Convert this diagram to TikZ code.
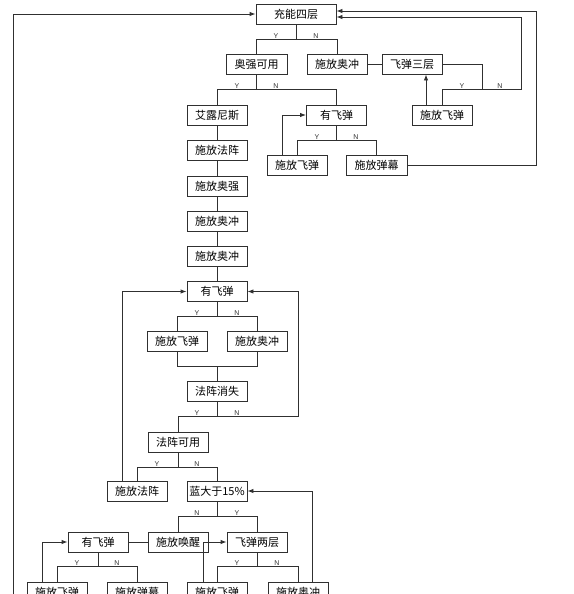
\documentclass[tikz,border=0pt]{standalone}
\usepackage{fontspec}
\setmainfont{Liberation Sans}
\newfontfamily\cjk{Noto Sans CJK SC}
\usetikzlibrary{arrows.meta}
\definecolor{wireclr}{HTML}{303030}

\begin{document}
\begin{tikzpicture}[x=1pt, y=-1pt,
  box/.style={draw=wireclr, line width=0.9pt, fill=white, minimum width=60pt, minimum height=20pt,
    inner sep=0pt, font=\cjk\fontsize{11}{11}\selectfont},
  yn/.style={font=\fontsize{7}{7}\selectfont, anchor=south, inner sep=0.6pt, text=wireclr},
  link/.style={draw=wireclr, line width=0.9pt},
  arr/.style={link, -{Latex[length=6pt, width=4.5pt]}}]
  \clip (0,0) rectangle (573,594);
  % --- top block ---
  \node[box, minimum width=80pt] (c4)   at (296,14)    {充能四层};
  \node[box, minimum width=61pt] (aqky) at (256.5,64)  {奥强可用};
  \node[box] (aoc1) at (337,64)   {施放奥冲};
  \node[box] (fd3)  at (412,64)   {飞弹三层};
  \node[box] (fd3f) at (442,115)  {施放飞弹};
  \node[box] (aln)  at (217,115)  {艾露尼斯};
  \node[box] (yfd1) at (336.5,115) {有飞弹};
  \node[box] (fd1)  at (297,165)  {施放飞弹};
  \node[box, minimum width=61pt] (dm1) at (376.5,165) {施放弹幕};
  % --- main column ---
  \node[box] (fz1)  at (217,150)   {施放法阵};
  \node[box] (aq)   at (217,186.5) {施放奥强};
  \node[box] (aoc2) at (217,221)   {施放奥冲};
  \node[box] (aoc3) at (217,256)   {施放奥冲};
  \node[box] (yfd2) at (217,291.5) {有飞弹};
  \node[box] (fd2)  at (177,341.5) {施放飞弹};
  \node[box] (aoc4) at (257,341.5) {施放奥冲};
  \node[box] (fzxs) at (217,391.5) {法阵消失};
  \node[box] (fzky) at (178,442)   {法阵可用};
  \node[box] (fz2)  at (137,491)   {施放法阵};
  \node[box] (lan)  at (217,491)   {蓝大于15\%};
  % --- bottom block (cut by the lower edge, as in the source) ---
  \node[box] (hx)   at (178,542) {施放唤醒};
  \node[box] (fd2c) at (257,542) {飞弹两层};
  \node[box] (yfd3) at (98,542)  {有飞弹};
  \node[box] (fd3a) at (57,592)  {施放飞弹};
  \node[box] (dm2)  at (137,592) {施放弹幕};
  \node[box] (fd3b) at (217,592) {施放飞弹};
  \node[box] (aoc5) at (298,592) {施放奥冲};

  % --- junctions ---
  \coordinate (j1)  at (296,39);
  \coordinate (j2)  at (256.5,89);
  \coordinate (j3)  at (482,89);
  \coordinate (j4)  at (336.5,140);
  \coordinate (j5)  at (217,316);
  \coordinate (j6)  at (217,366);
  \coordinate (j7)  at (217,416);
  \coordinate (j8)  at (178,467);
  \coordinate (j9)  at (217,516);
  \coordinate (j10) at (98,566.5);
  \coordinate (j11) at (257,566.5);
  \coordinate (n3)  at (521,17);
  \coordinate (r1)  at (536.5,11);
  \coordinate (r2)  at (298,291.5);
  \coordinate (bl)  at (13,600);

  % top branches
  \draw[link] (c4) -- (j1) -| (aqky);
  \draw[link] (j1) -| (aoc1);
  \node[yn] (y1) at (276,39) {Y};
  \node[yn] (n1) at (316,39) {N};
  \draw[link] (aoc1) -- (fd3);
  \draw[link] (fd3.east) -| (j3) -| (fd3f);
  \draw[arr] (j3) -| (n3) -- (n3 -| c4.east);
  \node[yn] (y3) at (462,89) {Y};
  \node[yn] (n3l) at (500,89) {N};
  \draw[arr] ([xshift=-16pt]fd3f.north) -- ([xshift=-16pt]fd3f.north |- fd3.south);
  \draw[link] (aqky) -- (j2) -| (aln);
  \draw[link] (j2) -| (yfd1);
  \node[yn] (y2) at (237,89) {Y};
  \node[yn] (n2) at (276,89) {N};
  \draw[link] (yfd1) -- (j4) -| (fd1);
  \draw[link] (j4) -| (dm1);
  \node[yn] (y4) at (317,140) {Y};
  \node[yn] (n4) at (356,140) {N};
  \draw[arr] ([xshift=-15pt]fd1.north) |- (yfd1.west);
  \draw[arr] (dm1.east) -| (r1) -- (r1 -| c4.east);
  \draw[arr] (bl) |- (c4.west);

  % column
  \draw[link] (aln) -- (fz1) -- (aq) -- (aoc2) -- (aoc3) -- (yfd2);
  \draw[link] (yfd2) -- (j5) -| (fd2);
  \draw[link] (j5) -| (aoc4);
  \node[yn] (y5) at (197,316) {Y};
  \node[yn] (n5) at (237,316) {N};
  \draw[link] (fd2) |- (j6);
  \draw[link] (aoc4) |- (j6);
  \draw[link] (j6) -- (fzxs);
  \draw[link] (fzxs) -- (j7) -| (fzky);
  \draw[arr] (j7) -| (r2) -- (yfd2);
  \node[yn] (y7) at (197,416) {Y};
  \node[yn] (n7) at (237,416) {N};
  \draw[link] (fzky) -- (j8) -| (fz2);
  \draw[link] (j8) -| (lan);
  \node[yn] (y8) at (157,467) {Y};
  \node[yn] (n8) at (197,467) {N};
  \draw[arr] ([xshift=-15pt]fz2.north) |- (yfd2.west);

  % bottom branches
  \draw[link] (lan) -- (j9) -| (hx);
  \draw[link] (j9) -| (fd2c);
  \node[yn] (n9) at (197,516) {N};
  \node[yn] (y9) at (237,516) {Y};
  \draw[link] (hx) -- (yfd3);
  \draw[link] (yfd3) -- (j10) -| (fd3a);
  \draw[link] (j10) -| (dm2);
  \node[yn] (y10) at (77,566.5) {Y};
  \node[yn] (n10) at (117,566.5) {N};
  \draw[arr] ([xshift=-15pt]fd3a.north) |- (yfd3.west);
  \draw[link] (fd2c) -- (j11) -| (fd3b);
  \draw[link] (j11) -| (aoc5);
  \node[yn] (y11) at (237,566.5) {Y};
  \node[yn] (n11) at (277,566.5) {N};
  \draw[arr] ([xshift=-14pt]fd3b.north) |- (fd2c.west);
  \draw[arr] ([xshift=14pt]aoc5.north) |- (lan.east);
\end{tikzpicture}
\end{document}
